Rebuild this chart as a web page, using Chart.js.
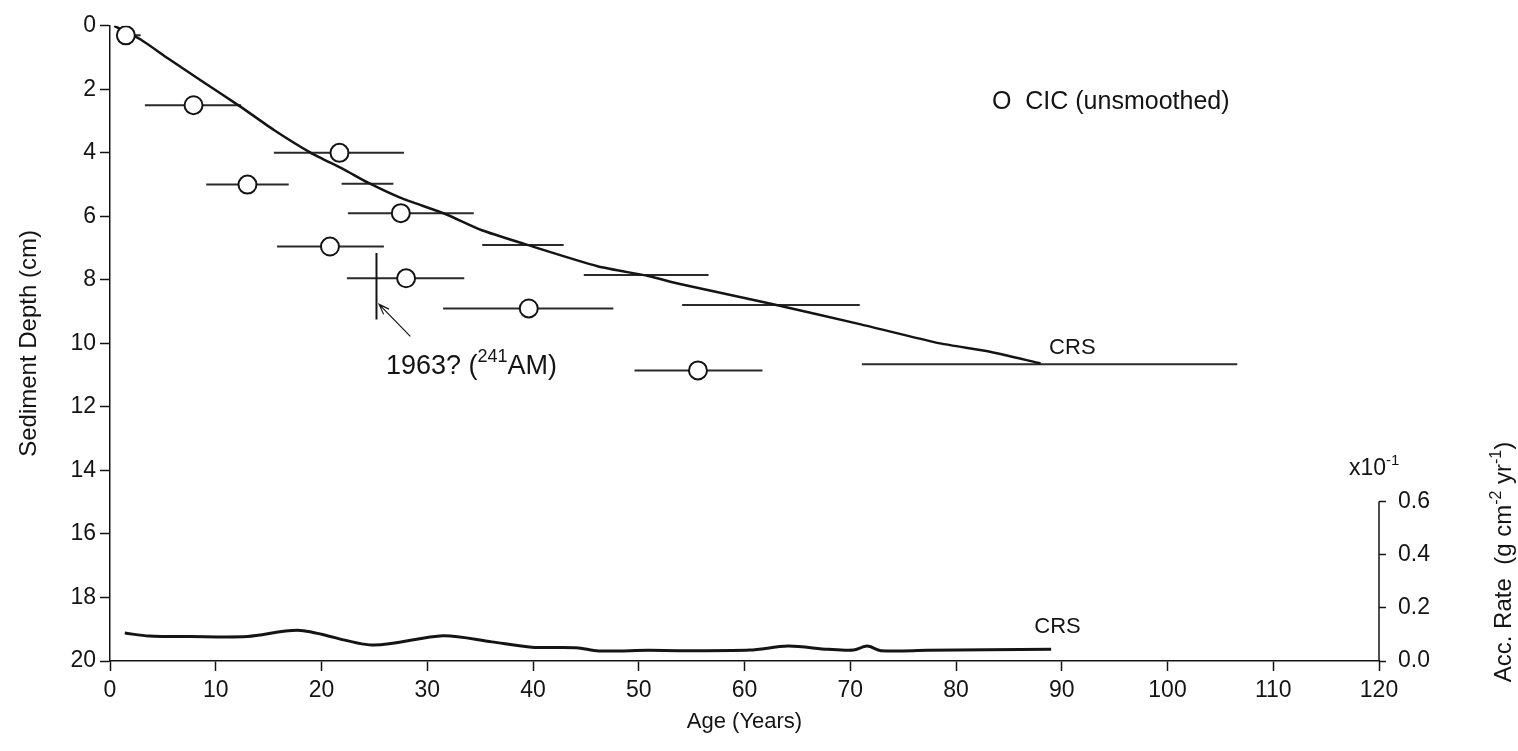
<!DOCTYPE html>
<html>
<head>
<meta charset="utf-8">
<script src="https://cdn.jsdelivr.net/npm/chart.js@4.4.1/dist/chart.umd.min.js"></script>
<style>
  html, body { margin: 0; padding: 0; background: #fff; }
  #wrap { width: 1518px; height: 751px; position: relative; }
</style>
</head>
<body>
<div id="wrap"><canvas id="chart"></canvas></div>
<script>
// CIC (unsmoothed) dates, with their horizontal age ranges
const cicAge     = [1.5, 7.9, 21.7, 13.0, 27.5, 20.8, 28.0, 39.6, 55.6];
const cicDepth   = [0.3, 2.5, 4.0, 5.0, 5.9, 6.95, 7.95, 8.9, 10.85];
const cicAgeLow  = [0.9, 3.3, 15.5, 9.1, 22.5, 15.8, 22.4, 31.5, 49.6];
const cicAgeHigh = [2.9, 12.4, 27.8, 16.9, 34.4, 25.9, 33.5, 47.6, 61.7];

// CRS age-depth curve
const crsAge   = [0.4, 2.9, 5.5, 8.6, 12.4, 15.5, 19.0, 22.1, 24.4, 27.5, 31.6, 35.1, 39.1, 46.1, 50.9, 54.0, 62.5, 71.0, 78.5, 83.0, 88.0];
const crsDepth = [0.0, 0.43, 1.03, 1.72, 2.56, 3.28, 4.0, 4.52, 4.94, 5.42, 5.91, 6.43, 6.86, 7.57, 7.88, 8.14, 8.75, 9.4, 10.0, 10.25, 10.63];

// CRS age ranges
const crsBarDepth = [4.97, 6.9, 7.85, 8.79, 10.66];
const crsBarLow   = [21.9, 35.2, 44.8, 54.1, 71.1];
const crsBarHigh  = [26.8, 42.9, 56.6, 70.9, 106.6];

// CRS accumulation rate (x10^-1 g cm-2 yr-1)
const rateAge   = [1.4, 3.7, 7.5, 13.0, 18.0, 24.8, 31.5, 36.1, 39.9, 44.1, 46.2, 50.9, 53.8, 60.5, 64.1, 67.9, 70.3, 71.6, 72.9, 77.3, 83.0, 89.0];
const rateValue = [0.105, 0.094, 0.092, 0.092, 0.115, 0.060, 0.095, 0.072, 0.052, 0.050, 0.038, 0.040, 0.039, 0.041, 0.056, 0.044, 0.041, 0.056, 0.039, 0.040, 0.042, 0.044];

// 1963 (241Am) marker
const amAge = 25.2;
const amDepth = [7.15, 9.25];

const ageTicks = [0, 10, 20, 30, 40, 50, 60, 70, 80, 90, 100, 110, 120];
const rateTicks = [0.0, 0.2, 0.4, 0.6];

const ink = '#141414';
const family = "'Liberation Sans', Arial, sans-serif";

function points(xs, ys)
{ return xs.map((v, i) => ({ x: v, y: ys[i] })); }

function barSegments(depths, lows, highs)
{
    const out = [];
    depths.forEach((d, i) => {
        out.push({ x: lows[i], y: d }, { x: highs[i], y: d }, { x: highs[i], y: null });
    });
    return out;
}

function drawRich(ctx, parts, x, y, size, align)
{
    const big = size + 'px ' + family;
    const small = Math.round(size * 0.66) + 'px ' + family;
    let w = 0;
    parts.forEach(p => { ctx.font = p.sup ? small : big; w += ctx.measureText(p.t).width; });
    let cx = align === 'center' ? x - w / 2 : x;
    ctx.textAlign = 'left';
    ctx.textBaseline = 'alphabetic';
    parts.forEach(p => {
        ctx.font = p.sup ? small : big;
        ctx.fillText(p.t, cx, p.sup ? y - size * 0.42 : y);
        cx += ctx.measureText(p.t).width;
    });
}

const overlay = {
    id: 'overlay',
    afterDatasetsDraw(chart)
    {
        const { ctx, chartArea, scales } = chart;
        const x = scales.x, y = scales.y, y2 = scales.y2;
        ctx.save();
        ctx.strokeStyle = ink;
        ctx.fillStyle = ink;

        // right axis only covers 0.0 - 0.6
        ctx.lineWidth = 1.5;
        ctx.beginPath();
        ctx.moveTo(chartArea.right, y2.getPixelForValue(0));
        ctx.lineTo(chartArea.right, y2.getPixelForValue(0.6));
        ctx.stroke();

        // arrow to the 1963 marker
        const tx = x.getPixelForValue(28.4), ty = y.getPixelForValue(9.78);
        const hx = x.getPixelForValue(25.45), hy = y.getPixelForValue(8.77);
        const ang = Math.atan2(hy - ty, hx - tx);
        ctx.lineWidth = 1.2;
        ctx.beginPath();
        ctx.moveTo(tx, ty);
        ctx.lineTo(hx, hy);
        ctx.moveTo(hx - 11 * Math.cos(ang - 0.35), hy - 11 * Math.sin(ang - 0.35));
        ctx.lineTo(hx, hy);
        ctx.lineTo(hx - 11 * Math.cos(ang + 0.35), hy - 11 * Math.sin(ang + 0.35));
        ctx.stroke();

        drawRich(ctx, [{ t: '1963? (' }, { t: '241', sup: true }, { t: 'AM)' }],
            x.getPixelForValue(26.1), y.getPixelForValue(10.95), 27, 'left');

        // curve labels
        ctx.font = '22px ' + family;
        ctx.textAlign = 'center';
        ctx.textBaseline = 'middle';
        ctx.fillText('CRS', x.getPixelForValue(91.0), y.getPixelForValue(10.15));
        ctx.fillText('CRS', x.getPixelForValue(89.6), y2.getPixelForValue(0.127));

        // legend
        ctx.font = '25px ' + family;
        ctx.textAlign = 'left';
        ctx.fillText('O  CIC (unsmoothed)', x.getPixelForValue(83.4), y.getPixelForValue(2.4));

        // right axis multiplier and title
        drawRich(ctx, [{ t: 'x10' }, { t: '-1', sup: true }], chartArea.right - 30, y2.getPixelForValue(0.6) - 27, 23, 'left');

        ctx.translate(1503, 562);
        ctx.rotate(-Math.PI / 2);
        drawRich(ctx, [{ t: 'Acc. Rate  (g cm' }, { t: '-2', sup: true }, { t: ' yr' }, { t: '-1', sup: true }, { t: ')' }],
            0, 8, 24, 'center');
        ctx.restore();
    }
};

const tickFont = { family: family, size: 23 };

const config = {
    type: 'scatter',
    data: {
        datasets: [
            {
                label: 'age ranges',
                data: barSegments(cicDepth, cicAgeLow, cicAgeHigh).concat(barSegments(crsBarDepth, crsBarLow, crsBarHigh)),
                showLine: true,
                spanGaps: false,
                borderColor: '#2a2a2a',
                borderWidth: 2,
                pointRadius: 0,
                order: 4
            },
            {
                label: 'CRS',
                data: points(crsAge, crsDepth),
                showLine: true,
                borderColor: ink,
                borderWidth: 2.5,
                pointRadius: 0,
                tension: 0.2,
                order: 3
            },
            {
                label: '1963',
                data: points([amAge, amAge], amDepth),
                showLine: true,
                borderColor: ink,
                borderWidth: 2,
                pointRadius: 0,
                order: 2
            },
            {
                label: 'CIC (unsmoothed)',
                data: points(cicAge, cicDepth),
                pointStyle: 'circle',
                pointRadius: 9,
                pointBorderWidth: 2,
                pointBorderColor: ink,
                pointBackgroundColor: '#fff',
                order: 1
            },
            {
                label: 'CRS rate',
                data: points(rateAge, rateValue),
                yAxisID: 'y2',
                showLine: true,
                borderColor: ink,
                borderWidth: 3,
                pointRadius: 0,
                tension: 0.3,
                order: 3
            }
        ]
    },
    options: {
        responsive: false,
        animation: false,
        layout: { padding: { top: 22 } },
        plugins: {
            legend: { display: false },
            tooltip: { enabled: false }
        },
        scales: {
            x: {
                type: 'linear',
                min: 0,
                max: 120,
                afterFit: s => { s.height = 90; },
                afterBuildTicks: s => { s.ticks = ageTicks.map(v => ({ value: v })); },
                border: { color: ink, width: 1.5 },
                grid: { drawOnChartArea: false, color: ink, tickLength: 10, tickWidth: 1.5 },
                ticks: { color: ink, font: tickFont, padding: 6, maxRotation: 0 },
                title: { display: true, text: 'Age (Years)', color: ink, font: { family: family, size: 22 }, padding: { bottom: 16 } }
            },
            y: {
                type: 'linear',
                reverse: true,
                min: 0,
                max: 20,
                afterFit: s => { s.width = 110; },
                border: { color: ink, width: 1.5 },
                grid: { drawOnChartArea: false, color: ink, tickLength: 10, tickWidth: 1.5 },
                ticks: { stepSize: 2, color: ink, font: tickFont, padding: 4 },
                title: { display: true, text: 'Sediment Depth (cm)', color: ink, font: { family: family, size: 24 }, padding: { top: 15 } }
            },
            y2: {
                type: 'linear',
                position: 'right',
                min: 0,
                max: 2.39,
                afterFit: s => { s.width = 139; },
                afterBuildTicks: s => { s.ticks = rateTicks.map(v => ({ value: v })); },
                border: { display: false },
                grid: { drawOnChartArea: false, color: ink, tickLength: 7, tickWidth: 1.5 },
                ticks: { color: ink, font: tickFont, padding: 12, callback: v => v.toFixed(1) }
            }
        }
    },
    plugins: [overlay]
};

const canvas = document.getElementById('chart');
canvas.width = 1518;
canvas.height = 751;
new Chart(canvas, config);
</script>
</body>
</html>
